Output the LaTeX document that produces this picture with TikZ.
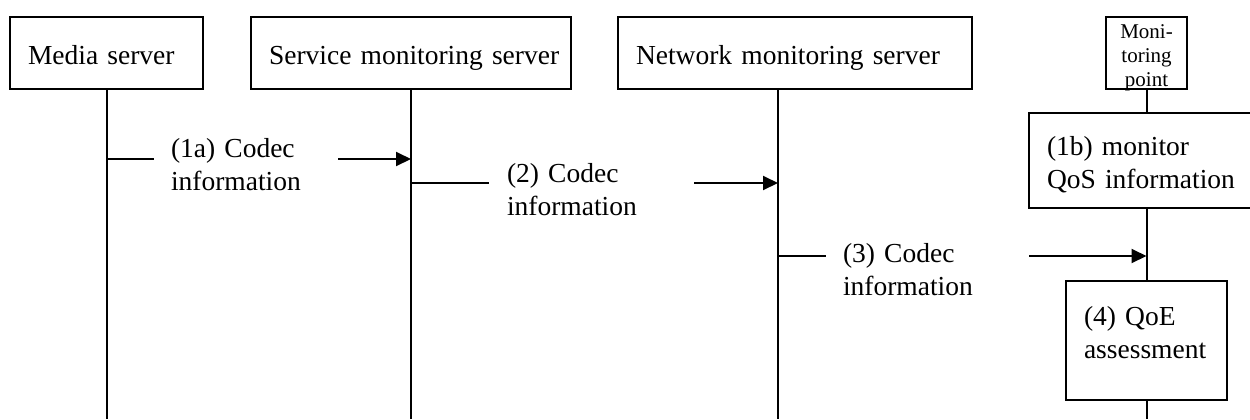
\documentclass[tikz,border=0pt]{standalone}
\usepackage{fontspec}
\setmainfont{Liberation Serif}
\usetikzlibrary{arrows.meta}
\begin{document}
\begin{tikzpicture}[x=0.5pt,y=-0.5pt,line width=1pt,
  font=\fontsize{13.75pt}{16.5pt}\selectfont,
  party/.style={draw, anchor=north west, inner xsep=9pt, inner ysep=0pt,
    minimum height=36pt, text height=12pt, text depth=1pt, align=left},
  msg/.style={-{Triangle[length=7.5pt,width=7pt]}},
  msglabel/.style={fill=white, anchor=north west, inner ysep=0pt, align=left},
  actbox/.style={draw, anchor=north west, inner ysep=0pt, inner xsep=9pt, align=left}
]
\clip (0,0) rectangle (1250,419);
% participants
\node[party, text width=78.5pt] (media) at (9,16) {\mbox{Media server}};
\node[party, text width=142pt] (svc) at (250,16) {\mbox{Service monitoring server}};
\node[party, text width=159pt] (net) at (617,16) {\mbox{Network monitoring server}};
\node[draw, anchor=north west, inner xsep=1pt, inner ysep=0pt, minimum height=36pt,
  text width=38.5pt, align=center, font=\fontsize{10.5pt}{12pt}\selectfont]
  (mp) at (1105,16) {\rule{0pt}{9pt}Moni-\\toring\\\smash{point}};
% activity boxes
\node[actbox, minimum height=47.5pt, text width=120pt] (qos) at (1028,112)
  {\rule{0pt}{13.75pt}(1b) monitor\\\mbox{QoS information}};
\node[actbox, minimum height=59.5pt, text width=62.5pt] (qoe) at (1065,280)
  {\mbox{(4) QoE}\\\mbox{assessment}\rule[-8.25pt]{0pt}{0pt}};
% helper coordinates
\coordinate (bot) at (0,419);
\coordinate (nl) at ([xshift=80.5pt]net.south west);
\coordinate (r1) at (0,159);
\coordinate (r2) at (0,183);
\coordinate (r3) at (0,256);
% lifelines
\draw (media.south) -- (media.south |- bot);
\draw (svc.south) -- (svc.south |- bot);
\draw (nl) -- (nl |- bot);
\draw (mp.south) -- (mp.south |- qos.north);
\draw (mp.south |- qos.south) -- (qoe.north);
\draw (qoe.south) -- (qoe.south |- bot);
% messages
\draw[msg] (media.south |- r1) -- (svc.south |- r1);
\draw[msg] (svc.south |- r2) -- (nl |- r2);
\draw[msg] (nl |- r3) -- (mp.south |- r3);
\node[msglabel, inner xsep=8.5pt, text width=75pt] (l1) at (153,137.5) {(1a) Codec\\information};
\node[msglabel, inner xsep=9pt, text width=84.5pt] (l2) at (488,162.5) {(2) Codec\\information};
\node[msglabel, inner xsep=8.5pt, text width=84.5pt] (l3) at (825,242.5) {(3) Codec\\information};
\end{tikzpicture}
\end{document}
